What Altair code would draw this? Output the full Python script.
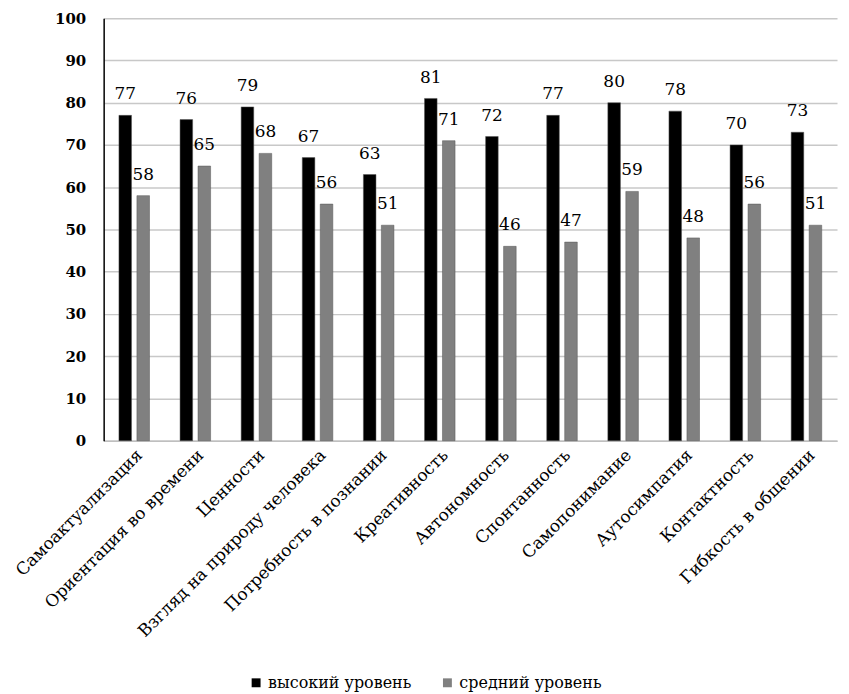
import altair as alt
import pandas as pd

categories = ["Самоактуализация", "Ориентация во времени", "Ценности",
              "Взгляд на природу человека", "Потребность в познании",
              "Креативность", "Автономность", "Спонтанность", "Самопонимание",
              "Аутосимпатия", "Контактность", "Гибкость в общении"]
high = [77, 76, 79, 67, 63, 81, 72, 77, 80, 78, 70, 73]
mid = [58, 65, 68, 56, 51, 71, 46, 47, 59, 48, 56, 51]
series = ["высокий уровень", "средний уровень"]
colors = ["#000000", "#808080"]

rows = []
for c, h, m in zip(categories, high, mid):
    rows.append({"cat": c, "series": series[0], "value": h})
    rows.append({"cat": c, "series": series[1], "value": m})
df = pd.DataFrame(rows)

FONT = "DejaVu Serif"

x = alt.X("cat:N", sort=categories, title=None,
          scale=alt.Scale(paddingInner=0.5, paddingOuter=0.25),
          axis=alt.Axis(labelAngle=-45, labelFont=FONT, labelFontSize=17,
                        labelColor="#000000", ticks=False, domainColor="#bfbfbf",
                        domainWidth=1.5, labelPadding=6, labelLimit=400))
xo = alt.XOffset("series:N", sort=series,
                 scale=alt.Scale(paddingInner=0.3))
y = alt.Y("value:Q", title=None,
          scale=alt.Scale(domain=[0, 100]),
          axis=alt.Axis(values=list(range(0, 101, 10)), labelFont=FONT,
                        labelFontSize=15, labelFontWeight="bold",
                        labelColor="#000000", ticks=False, labelPadding=18,
                        domainColor="#000000", domainWidth=1.5,
                        gridColor="#c8c8c8", gridWidth=1.5))
color = alt.Color("series:N", sort=series,
                  scale=alt.Scale(domain=series, range=colors),
                  legend=alt.Legend(title=None, orient="none",
                                    legendX=145, legendY=659,
                                    direction="horizontal", labelFont=FONT,
                                    labelFontSize=16, labelColor="#000000",
                                    symbolType="square", symbolSize=80,
                                    symbolStrokeWidth=0, labelOffset=4,
                                    columnPadding=28))

base = alt.Chart(df).encode(x=x, xOffset=xo, y=y)
bars = base.mark_bar(stroke="#555555", strokeWidth=0.5).encode(color=color)
labels = base.mark_text(dy=-12, font=FONT, fontSize=17, color="#000000",
                        baseline="bottom").encode(text="value:Q")

chart = (bars + labels).properties(
    width=736, height=424,
    padding={"left": 4, "top": 2, "right": 4, "bottom": 0}
).configure_view(stroke=None).configure_axis(grid=True).configure_axisX(grid=False)

chart.save("out.html", embed_options={"renderer": "svg", "actions": False})
